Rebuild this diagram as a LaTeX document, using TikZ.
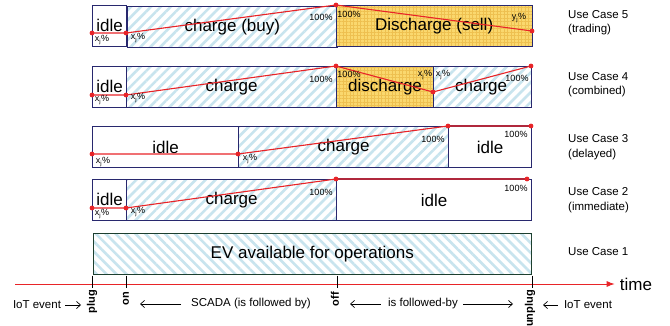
\documentclass[tikz,border=0pt]{standalone}
\usepackage{fontspec}
\setmainfont{Liberation Sans}
\usetikzlibrary{patterns.meta,arrows.meta}

\definecolor{navy}{RGB}{40,40,110}
\definecolor{evgreen}{RGB}{30,64,48}
\definecolor{stripe}{RGB}{200,228,238}
\definecolor{amber}{RGB}{250,216,110}
\definecolor{amberline}{RGB}{238,192,80}
\definecolor{socred}{RGB}{232,36,40}
\definecolor{socdark}{RGB}{176,40,60}

\tikzset{
  seg/.style={draw=navy, line width=1.2pt, inner sep=0pt, anchor=north west,
    minimum height=41pt, font=\fontsize{17}{20}\selectfont},
  idlebox/.style={seg, fill=white},
  chargebox/.style={seg, preaction={fill=white},
    pattern={Lines[angle=45,distance=7pt,line width=2.6pt]}, pattern color=stripe},
  dischargebox/.style={seg, preaction={fill=amber},
    pattern={Hatch[angle=0,distance=3.5pt,line width=0.35pt]}, pattern color=amberline},
  evbox/.style={seg, draw=evgreen, preaction={fill=white},
    pattern={Lines[angle=-45,distance=7pt,line width=2.6pt]}, pattern color=stripe},
  pct/.style={font=\fontsize{9}{10}\selectfont, inner sep=0pt},
  uc/.style={font=\fontsize{11.5}{14.5}\selectfont, align=left, anchor=west, inner sep=0pt},
  note/.style={font=\fontsize{11.5}{14}\selectfont, inner sep=0pt},
  event/.style={font=\fontsize{11}{13}\selectfont\bfseries, rotate=90, anchor=east,
    inner sep=1pt, text height=1.5ex, text depth=0.4ex},
  soc/.style={socred, line width=1.1pt},
  socflat/.style={socdark, line width=2pt},
  dot/.style={socred},
  arr/.style={black, line width=0.7pt, -{Straight Barb[length=4pt,width=7pt]}},
  tick/.style={black, line width=1pt},
}

\newcommand{\xj}{x\textsubscript{j}\%}
\newcommand{\yj}{y\textsubscript{j}\%}

\begin{document}
\begin{tikzpicture}[x=1pt,y=-1pt]
  \fill[white] (0,0) rectangle (670,326);
  \useasboundingbox (0,0) rectangle (670,326);

  % Use case 5: trading
  \node[idlebox, minimum width=34pt] (i5) at (92,5) {\raisebox{2pt}{idle}};
  \node[chargebox, minimum width=210pt] (c5) at (126,5) {charge (buy)};
  \node[dischargebox, minimum width=196pt] (d5) at (336,5) {Discharge (sell)};

  % Use case 4: combined
  \node[idlebox, minimum width=34pt] (i4) at (92,66) {\raisebox{2pt}{idle}};
  \node[chargebox, minimum width=210pt] (c4) at (126,66) {charge};
  \node[dischargebox, minimum width=97pt] (d4) at (336,66) {\raisebox{-2pt}{discharge}};
  \node[chargebox, minimum width=98pt] (e4) at (433,66) {\hspace*{-3pt}\raisebox{-1pt}{charge}};

  % Use case 3: delayed
  \node[idlebox, minimum width=146pt] (i3) at (92,126) {idle};
  \node[chargebox, minimum width=210pt] (c3) at (238,126) {charge};
  \node[idlebox, minimum width=83pt] (j3) at (448,126) {idle};

  % Use case 2: immediate
  \node[idlebox, minimum width=34pt] (i2) at (92,179) {\raisebox{2pt}{idle}};
  \node[chargebox, minimum width=210pt] (c2) at (126,179) {charge};
  \node[idlebox, minimum width=195pt] (j2) at (336,179) {idle};

  % Use case 1
  \node[evbox, minimum width=438pt] (ev) at (92,232) {EV available for operations};

  % state-of-charge curves
  \coordinate (s5a) at (92,33);  \coordinate (s5b) at (126,33);
  \coordinate (s5c) at (336,5);  \coordinate (s5d) at (532,31);
  \coordinate (s4a) at (92,95);  \coordinate (s4b) at (126,95);
  \coordinate (s4c) at (336,66); \coordinate (s4d) at (433,92);
  \coordinate (s4e) at (531,66);
  \coordinate (s3a) at (92,154); \coordinate (s3b) at (238,154);
  \coordinate (s3c) at (448,126); \coordinate (s3d) at (531,126);
  \coordinate (s2a) at (92,208); \coordinate (s2b) at (126,208);
  \coordinate (s2c) at (336,179); \coordinate (s2d) at (527,179);

  \draw[socflat] (s3c) -- (s3d);
  \draw[socflat] (s2c) -- (s2d);
  \draw[soc] (s5a) -- (s5b) -- (s5c) -- (s5d);
  \draw[soc] (s4a) -- (s4b) -- (s4c) -- (s4d) -- (s4e);
  \draw[soc] (s3a) -- (s3b) -- (s3c);
  \draw[soc] (s2a) -- (s2b) -- (s2c);
  \foreach \p in {s5a,s5b,s5c,s5d,s4a,s4b,s4c,s4d,s4e,s3a,s3b,s3c,s3d,s2a,s2b,s2c,s2d}
    \fill[dot] (\p) circle (2.4pt);

  % charge levels
  \node[pct] (l5a) at (102,40) {\xj};
  \node[pct] (l5b) at (138,38) {\xj};
  \node[pct] (l5c) at (321,17) {100\%};
  \node[pct] (l5d) at (349,14) {100\%};
  \node[pct] (l5e) at (519,18) {\yj};

  \node[pct] (l4a) at (102,100) {\xj};
  \node[pct] (l4b) at (138,98) {\xj};
  \node[pct] (l4c) at (321,79) {100\%};
  \node[pct] (l4d) at (349,74) {100\%};
  \node[pct] (l4e) at (425,75) {\xj};
  \node[pct] (l4f) at (443,75) {\xj};
  \node[pct] (l4g) at (517,78) {100\%};

  \node[pct] (l3a) at (103,162) {\xj};
  \node[pct] (l3b) at (250,159) {\xj};
  \node[pct] (l3c) at (433,139) {100\%};
  \node[pct] (l3d) at (516,134) {100\%};

  \node[pct] (l2a) at (102,214) {\xj};
  \node[pct] (l2b) at (138,212) {\xj};
  \node[pct] (l2c) at (321,192) {100\%};
  \node[pct] (l2d) at (516,188) {100\%};

  % use case captions
  \node[uc] (u5) at (568,22.5) {Use Case 5\\(trading)};
  \node[uc] (u4) at (568,84.5) {Use Case 4\\(combined)};
  \node[uc] (u3) at (568,147) {Use Case 3\\(delayed)};
  \node[uc] (u2) at (568,200) {Use Case 2\\(immediate)};
  \node[uc] (u1) at (568,252) {Use Case 1};

  % time axis
  \coordinate (axisL) at (15,284);
  \coordinate (tickend) at (0,288);
  \node[font=\fontsize{17}{20}\selectfont, inner sep=0pt] (time) at (636,284) {time};
  \draw[socred, line width=1pt, -{Latex[length=8pt,width=6pt]}, shorten >=5pt]
    (axisL) -- (time.west);
  \draw[tick] (ev.south west) -- (ev.south west |- tickend);
  \draw[tick] (c2.south west |- ev.south) -- (c2.south west |- tickend);
  \draw[tick] (c2.south east |- ev.south) -- (c2.south east |- tickend);
  \draw[tick] (ev.south east) -- (ev.south east |- tickend);

  % events
  \node[event] (plug) at (92,289) {plug};
  \node[event] (on) at (126,291) {on};
  \node[event] (off) at (336,291) {off};
  \node[event] (unplug) at (530,289) {unplug};

  \node[note] (iotL) at (37,305) {IoT event};
  \node[note] (scada) at (251,304) {SCADA (is followed by)};
  \node[note] (follow) at (423,304) {is followed-by};
  \node[note] (iotR) at (588,305) {IoT event};

  \draw[arr, shorten <=4pt, shorten >=11pt] (iotL.east) -- (iotL.east -| plug);
  \draw[arr, shorten <=10pt, shorten >=14pt] (scada.west) -- (scada.west -| on);
  \draw[arr, shorten <=7pt, shorten >=14pt] (follow.west) -- (follow.west -| off);
  \draw[arr, shorten <=5pt, shorten >=17pt] (follow.east) -- (follow.east -| unplug);
  \draw[arr, shorten <=6pt, shorten >=13pt] (iotR.west) -- (iotR.west -| unplug);
\end{tikzpicture}
\end{document}
